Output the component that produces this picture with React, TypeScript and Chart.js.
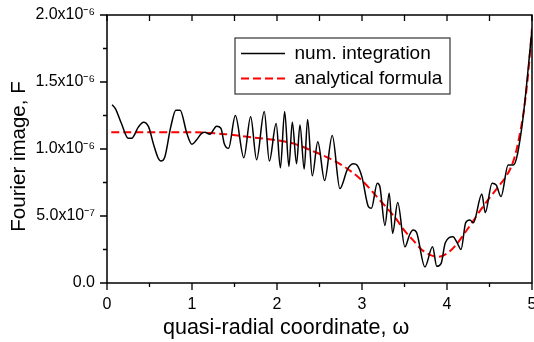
import React, { useEffect, useRef } from 'react';
import { Chart, registerables } from 'chart.js';

Chart.register(...registerables);

// numerical integration (x = omega, y in units of 1e-6)
const numX = [
  0.06, 0.10, 0.17, 0.25, 0.29, 0.37, 0.43, 0.49, 0.545, 0.60, 0.635, 0.68, 0.75, 0.81, 0.86, 0.94,
  1.00, 1.05, 1.11, 1.15, 1.21, 1.29, 1.34, 1.38, 1.43, 1.51, 1.61, 1.69, 1.76, 1.85, 1.91, 1.99,
  2.04, 2.09, 2.14, 2.18, 2.23, 2.27, 2.32, 2.36, 2.415, 2.48, 2.56, 2.65, 2.74, 2.83, 2.90, 2.94,
  3.00, 3.075, 3.11, 3.18, 3.21, 3.27, 3.32, 3.36, 3.42, 3.505, 3.56, 3.60, 3.64, 3.74, 3.83, 3.88,
  3.93, 3.98, 4.07, 4.12, 4.165, 4.22, 4.27, 4.31, 4.41, 4.45, 4.53, 4.58, 4.635, 4.72, 4.78, 4.88, 5.00,
];
const numY = [
  1.33, 1.30, 1.19, 1.08, 1.08, 1.165, 1.20, 1.165, 1.04, 0.935, 0.91, 0.94, 1.165, 1.29, 1.29, 1.115,
  1.035, 1.065, 1.115, 1.125, 1.11, 1.17, 1.155, 1.04, 1.005, 1.25, 0.935, 1.24, 0.92, 1.28, 0.91, 1.19,
  0.86, 1.28, 0.87, 1.20, 0.89, 1.18, 0.85, 1.22, 0.80, 1.055, 0.765, 1.10, 0.705, 0.85, 0.89, 0.88,
  0.79, 0.57, 0.557, 0.745, 0.72, 0.43, 0.67, 0.37, 0.60, 0.27, 0.36, 0.395, 0.38, 0.12, 0.27, 0.125,
  0.145, 0.30, 0.345, 0.30, 0.25, 0.45, 0.47, 0.45, 0.665, 0.525, 0.745, 0.73, 0.645, 0.88, 0.88, 1.16, 1.89,
];

// analytical formula (x = omega, y in units of 1e-6)
const anaX = [
  0.05, 0.5, 1.0, 1.2, 1.4, 1.6, 1.8, 2.0, 2.2, 2.4, 2.6, 2.8, 3.0, 3.2, 3.4, 3.5, 3.6, 3.7, 3.8,
  3.9, 4.0, 4.1, 4.2, 4.3, 4.4, 4.5, 4.6, 4.7, 4.75, 4.8, 4.85, 4.9, 4.95, 5.0,
];
const anaY = [
  1.125, 1.125, 1.125, 1.12, 1.11, 1.095, 1.08, 1.065, 1.04, 0.99, 0.935, 0.865, 0.765, 0.625, 0.48, 0.39, 0.32, 0.25, 0.21,
  0.195, 0.22, 0.28, 0.365, 0.455, 0.55, 0.635, 0.715, 0.80, 0.86, 0.95, 1.09, 1.27, 1.53, 1.90,
];

const seriesNames = ['num. integration', 'analytical formula'];

const xTickValues = [0, 1, 2, 3, 4, 5];
const xTickLabels = ['0', '1', '2', '3', '4', '5'];
const yTickValues = [0, 0.5, 1.0, 1.5, 2.0];
const yTickLabels = ['0.0', '5.0x10\u207B\u2077', '1.0x10\u207B\u2076', '1.5x10\u207B\u2076', '2.0x10\u207B\u2076'];

const xTitle = 'quasi-radial coordinate, \u03C9';
const yTitle = 'Fourier image, F';

const FONT = "'Liberation Sans', Arial, sans-serif";

const findLabel = (vals: number[], labels: string[], v: number) => {
  const i = vals.findIndex((t) => Math.abs(t - v) < 1e-9);
  return i >= 0 ? labels[i] : '';
};

const frameAndTicks = {
  id: 'frameAndTicks',
  afterLayout(chart: any) {
    const leg = chart.legend;
    if (leg) {
      const dx = 235 - leg.left;
      const dy = 38 - leg.top;
      leg.left += dx; leg.right += dx;
      leg.top += dy; leg.bottom += dy;
    }
  },
  afterDraw(chart: any) {
    const { ctx, chartArea: a } = chart;
    const xs = chart.scales.x;
    const ys = chart.scales.y;
    ctx.save();
    ctx.strokeStyle = '#000';
    ctx.lineWidth = 1.5;
    ctx.strokeRect(a.left, a.top, a.right - a.left, a.bottom - a.top);
    ctx.lineWidth = 1.3;
    ctx.beginPath();
    xs.ticks.forEach((t: any) => {
      const px = xs.getPixelForValue(t.value);
      const major = xTickValues.some((v) => Math.abs(v - t.value) < 1e-9);
      ctx.moveTo(px, a.bottom);
      ctx.lineTo(px, a.bottom + (major ? 7 : 4));
      ctx.moveTo(px, a.top);
      ctx.lineTo(px, a.top + 6);
    });
    ys.ticks.forEach((t: any) => {
      const py = ys.getPixelForValue(t.value);
      const major = yTickValues.some((v) => Math.abs(v - t.value) < 1e-9);
      ctx.moveTo(a.left, py);
      ctx.lineTo(a.left - (major ? 7 : 4), py);
    });
    ctx.stroke();
    const leg = chart.legend;
    if (leg) {
      ctx.lineWidth = 1.2;
      ctx.strokeStyle = '#333';
      ctx.strokeRect(leg.left, leg.top, 215, 56);
    }
    // axis titles
    ctx.fillStyle = '#000';
    ctx.textBaseline = 'alphabetic';
    ctx.font = `21.5px ${FONT}`;
    ctx.textAlign = 'left';
    ctx.fillText(xTitle, 163, 334);
    ctx.font = `20.5px ${FONT}`;
    ctx.textAlign = 'center';
    ctx.translate(25, 156.5);
    ctx.rotate(-Math.PI / 2);
    ctx.fillText(yTitle, 0, 0);
    ctx.restore();
  },
};

export default function App() {
  const ref = useRef<HTMLCanvasElement>(null);
  useEffect(() => {
    document.body.style.margin = '0';
    if (!ref.current) return;
    const chart = new Chart(ref.current, {
      type: 'line',
      data: {
        datasets: [
          {
            label: seriesNames[0],
            data: numX.map((x, i) => ({ x, y: numY[i] })),
            borderColor: '#000',
            backgroundColor: '#000',
            borderWidth: 1.5,
            pointRadius: 0,
            cubicInterpolationMode: 'monotone',
            fill: false,
          },
          {
            label: seriesNames[1],
            data: anaX.map((x, i) => ({ x, y: anaY[i] })),
            borderColor: '#ff0000',
            backgroundColor: '#ff0000',
            borderWidth: 2,
            borderDash: [8, 4],
            pointRadius: 0,
            cubicInterpolationMode: 'monotone',
            fill: false,
          },
        ],
      },
      options: {
        responsive: false,
        animation: false,
        layout: { padding: { left: 0, right: 2, top: 15, bottom: 0 }, autoPadding: false },
        plugins: {
          legend: {
            position: 'chartArea',
            align: 'start',
            labels: {
              usePointStyle: true,
              pointStyle: 'line',
              pointStyleWidth: 44,
              padding: 6,
              color: '#000',
              font: { family: FONT, size: 19 },
              generateLabels: (chart: any) =>
                Chart.defaults.plugins.legend.labels.generateLabels(chart).map((item: any, i: number) => {
                  const ds: any = chart.data.datasets[i];
                  return {
                    ...item,
                    pointStyle: 'line',
                    lineDash: ds.borderDash || [],
                    lineWidth: ds.borderWidth,
                    strokeStyle: ds.borderColor,
                    fillStyle: ds.borderColor,
                  };
                }),
            },
          },
          tooltip: { enabled: false },
        },
        scales: {
          x: {
            type: 'linear',
            min: 0,
            max: 5,
            grid: { display: false, drawTicks: false },
            border: { display: false },
            ticks: {
              stepSize: 0.5,
              autoSkip: false,
              maxRotation: 0,
              padding: 12,
              color: '#000',
              font: { family: FONT, size: 16 },
              callback: (v: any) => findLabel(xTickValues, xTickLabels, Number(v)),
            },
            title: { display: false, text: xTitle },
            afterFit: (s: any) => { s.height = 59; s.paddingLeft = 0; s.paddingRight = 0; },
          },
          y: {
            type: 'linear',
            min: 0,
            max: 2,
            grid: { display: false, drawTicks: false },
            border: { display: false },
            ticks: {
              stepSize: 0.25,
              autoSkip: false,
              padding: 12,
              color: '#000',
              font: { family: FONT, size: 16 },
              callback: (v: any) => findLabel(yTickValues, yTickLabels, Number(v)),
            },
            title: { display: false, text: yTitle },
            afterFit: (s: any) => { s.width = 107; s.paddingTop = 0; s.paddingBottom = 0; },
          },
        },
      } as any,
      plugins: [frameAndTicks],
    });
    return () => chart.destroy();
  }, []);
  return <canvas ref={ref} width={534} height={342} style={{ display: 'block' }} />;
}
